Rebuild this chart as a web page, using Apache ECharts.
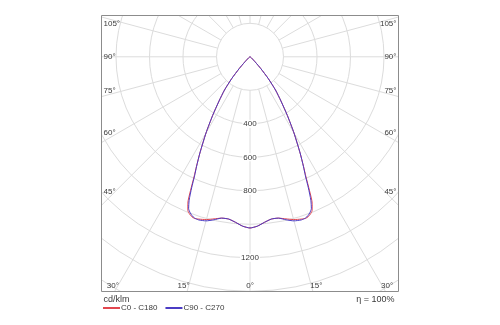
<!DOCTYPE html>
<html>
<head>
<meta charset="utf-8">
<script src="https://cdn.jsdelivr.net/npm/echarts@6/dist/echarts.min.js"></script>
<style>
  html, body { margin: 0; padding: 0; background: #fff; }
  #chart { width: 500px; height: 325px; }
</style>
</head>
<body>
<div id="chart"></div>
<script>
// Gamma angles (deg from nadir) at which intensities are tabulated
const gammaDeg = [0, 2.5, 5, 7.5, 10, 12.5, 15, 17.5, 19, 20, 21, 22, 23, 24, 25, 26, 27.5, 30, 32.5, 35, 37.5, 40, 42.5, 45, 50, 60, 70, 80, 90];
// Luminous intensity, cd/klm
const intensityC0C180 = [1022, 1012, 992, 977, 978, 991, 1006, 1016, 1020, 1016, 1006, 990, 950, 872, 790, 730, 648, 525, 415, 322, 250, 170, 95, 45, 15, 5, 2, 1, 0];
const intensityC90C270 = [1022, 1012, 992, 977, 978, 997, 1014, 1021, 1018, 1010, 997, 978, 930, 857, 782, 727, 648, 525, 415, 322, 250, 170, 95, 45, 15, 5, 2, 1, 0];
const seriesNames = ['C0 - C180', 'C90 - C270'];
const seriesColors = ['#e2474f', '#4b3cc4'];
// Ring values that carry a label on the vertical axis
const ringLabels = [400, 600, 800, 1200];
// Angle labels on the frame (left/right edges and bottom edge)
const sideAngles = [105, 90, 75, 60, 45];
const bottomAngles = [30, 15, 0];
const efficiencyText = '\u03b7 = 100%';
const unitText = 'cd/klm';

const FRAME = { left: 101.5, top: 15.5, right: 398.5, bottom: 291.5 };
const CENTER = [250, 56.8];
const PX_PER_200 = 33.5;
const RMAX = 1800;
const ROUTER = PX_PER_200 * RMAX / 200;
const RINNER = PX_PER_200;
const gridColor = '#dcdcdc';
const textColor = '#3a3a3a';
const fontFamily = 'Liberation Sans, Arial, sans-serif';

// Build the curve of one C-plane pair: left half (360 - gamma) then right half (gamma)
function planeCurve(values) {
  const pts = [];
  for (let i = gammaDeg.length - 1; i >= 0; i--) pts.push([values[i], 360 - gammaDeg[i]]);
  for (let i = 0; i < gammaDeg.length; i++) pts.push([values[i], gammaDeg[i]]);
  return pts;
}

const hiddenAngle = {
  type: 'value', min: 0, max: 360, startAngle: 270, clockwise: false,
  axisLine: { show: false }, axisTick: { show: false }, axisLabel: { show: false }, splitLine: { show: false }
};
const hiddenRadius = {
  type: 'value', axisLine: { show: false }, axisTick: { show: false }, axisLabel: { show: false }, splitLine: { show: false }
};

const chart = echarts.init(document.getElementById('chart'), null, { renderer: 'canvas' });

const option = {
  animation: false,
  backgroundColor: '#fff',
  polar: [
    { center: CENTER, radius: [RINNER, ROUTER] },  // rings + 15° spokes
    { center: CENTER, radius: [0, ROUTER] }        // data
  ],
  radiusAxis: [
    Object.assign({}, hiddenRadius, { polarIndex: 0, min: 200, max: RMAX, interval: 200,
      splitLine: { show: true, lineStyle: { color: gridColor, width: 1 } } }),
    Object.assign({}, hiddenRadius, { polarIndex: 1, min: 0, max: RMAX })
  ],
  angleAxis: [
    Object.assign({}, hiddenAngle, { polarIndex: 0, interval: 15,
      splitLine: { show: true, lineStyle: { color: gridColor, width: 1 } } }),
    Object.assign({}, hiddenAngle, { polarIndex: 1 })
  ],
  legend: {
    z: 100,
    left: 103, top: 304, padding: 0,
    icon: 'rect', itemWidth: 17, itemHeight: 2, itemGap: 8,
    textStyle: { fontFamily: fontFamily, fontSize: 8, color: textColor, padding: [0, 0, 0, -4] },
    data: seriesNames
  },
  series: seriesNames.map((name, k) => ({
    type: 'line',
    name: name,
    coordinateSystem: 'polar',
    polarIndex: 1,
    data: planeCurve(k === 0 ? intensityC0C180 : intensityC90C270),
    showSymbol: false,
    symbol: 'none',
    smooth: 0.2,
    z: 5 + k,
    lineStyle: { color: seriesColors[k], width: 1 },
    itemStyle: { color: seriesColors[k] }
  }))
};
chart.setOption(option);

// Overlays: mask outside the frame, the frame itself, and the text
function toPx(r, a) { return chart.convertToPixel({ polarIndex: 1 }, [r, a]); }
const c0 = toPx(0, 0);
const W = 500, H = 325;
const graphics = [];
const maskStyle = { fill: '#fff' };
graphics.push({ type: 'rect', z: 50, silent: true, shape: { x: 0, y: 0, width: W, height: FRAME.top }, style: maskStyle });
graphics.push({ type: 'rect', z: 50, silent: true, shape: { x: 0, y: 0, width: FRAME.left, height: H }, style: maskStyle });
graphics.push({ type: 'rect', z: 50, silent: true, shape: { x: FRAME.right, y: 0, width: W - FRAME.right, height: H }, style: maskStyle });
graphics.push({ type: 'rect', z: 50, silent: true, shape: { x: 0, y: FRAME.bottom, width: W, height: H - FRAME.bottom }, style: maskStyle });
graphics.push({ type: 'rect', z: 60, silent: true,
  shape: { x: FRAME.left, y: FRAME.top, width: FRAME.right - FRAME.left, height: FRAME.bottom - FRAME.top },
  style: { fill: 'none', stroke: '#8c8c8c', lineWidth: 1 } });

const labelFont = { fontFamily: fontFamily, fontSize: 8, fill: textColor };

// Ring value labels on the vertical axis below the centre
ringLabels.forEach(v => {
  const p = toPx(v, 0);
  graphics.push({ type: 'text', z: 40, silent: true, x: p[0], y: p[1],
    style: Object.assign({ text: String(v), align: 'center', verticalAlign: 'middle',
      backgroundColor: '#fff', padding: [0, 1] }, labelFont) });
});

// Angle labels where the spokes meet the frame
sideAngles.forEach(a => {
  [a, 360 - a].forEach((ang, side) => {
    const p = toPx(1000, ang);
    const dx = p[0] - c0[0], dy = p[1] - c0[1];
    const xEdge = side === 0 ? FRAME.right - 10 : FRAME.left + 10;
    const y = c0[1] + dy * (xEdge - c0[0]) / dx;
    const shift = a < 90 ? -3.5 : (a > 90 ? 4 : 0);
    graphics.push({ type: 'text', z: 70, silent: true,
      x: side === 0 ? FRAME.right - 2 : FRAME.left + 2, y: y + shift,
      style: Object.assign({ text: a + '\u00b0', align: side === 0 ? 'right' : 'left', verticalAlign: 'middle' }, labelFont) });
  });
});
bottomAngles.forEach(a => {
  const sides = a === 0 ? [0] : [a, 360 - a];
  sides.forEach(ang => {
    const p = toPx(1000, ang);
    const dx = p[0] - c0[0], dy = p[1] - c0[1];
    const yEdge = FRAME.bottom - 6;
    let x = c0[0] + dx * (yEdge - c0[1]) / dy;
    let align = 'center';
    if (a !== 0) {
      // the label sits just inside the spoke, clamped to the frame
      const onRight = ang < 180;
      x = onRight ? x - 1 : x + 1;
      align = onRight ? 'left' : 'right';
      if (!onRight && x < FRAME.left + 14) { x = FRAME.left + 1.5; align = 'left'; }
      if (onRight && x > FRAME.right - 14) { x = FRAME.right - 1.5; align = 'right'; }
    }
    graphics.push({ type: 'text', z: 70, silent: true, x: x, y: FRAME.bottom - 6,
      style: Object.assign({ text: a + '\u00b0', align: align, verticalAlign: 'middle' }, labelFont) });
  });
});

// Unit and efficiency text below the frame
graphics.push({ type: 'text', z: 70, silent: true, x: FRAME.left + 2, y: 300,
  style: { text: unitText, fontFamily: fontFamily, fontSize: 9, fill: textColor, align: 'left', verticalAlign: 'middle' } });
graphics.push({ type: 'text', z: 70, silent: true, x: FRAME.right - 4, y: 300,
  style: { text: efficiencyText, fontFamily: fontFamily, fontSize: 9, fill: textColor, align: 'right', verticalAlign: 'middle' } });

chart.setOption({ graphic: { elements: graphics } });
</script>
</body>
</html>
